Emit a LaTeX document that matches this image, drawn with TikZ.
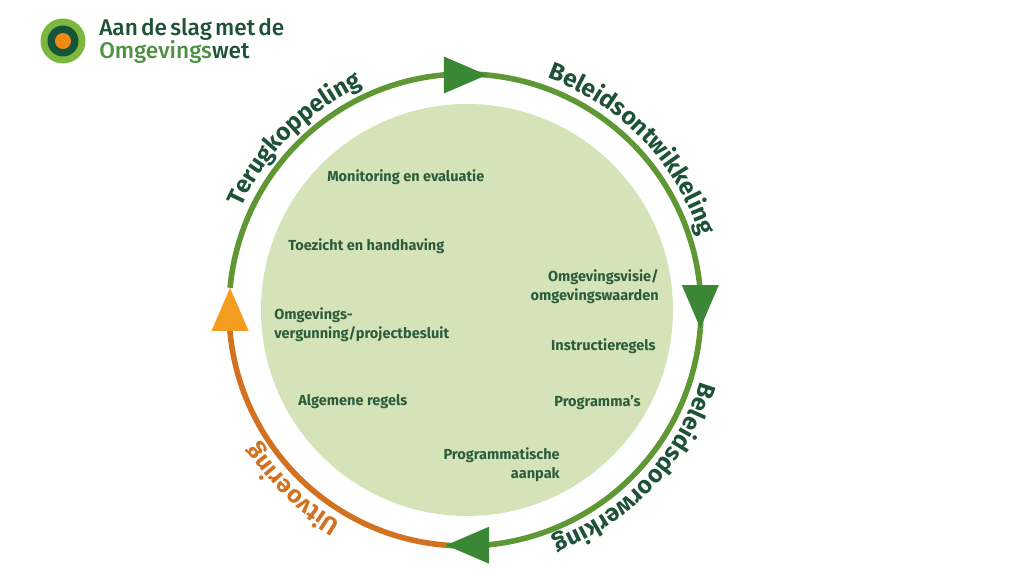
\documentclass[tikz,border=0pt]{standalone}
\usepackage{fontspec}
\setmainfont{Fira Sans}
\newfontfamily\titlefont[WordSpace=0.55]{Fira Sans Medium}
\usetikzlibrary{decorations.text, positioning}
\definecolor{ringgreen}{HTML}{5E9733}
\definecolor{ringorange}{HTML}{D2711F}
\definecolor{tipgreen}{HTML}{3A8735}
\definecolor{tiporange}{HTML}{F39C1F}
\definecolor{discgreen}{HTML}{D5E3B9}
\definecolor{labeldark}{HTML}{2C5C3C}
\definecolor{titledark}{HTML}{1D5138}
\definecolor{titlegreen}{HTML}{4F9143}
\definecolor{logolight}{HTML}{7DB73E}
\definecolor{logodark}{HTML}{14553A}
\definecolor{logoorange}{HTML}{F08A14}
\newcommand{\ringfont}{\fontsize{18.3}{18.3}\selectfont\bfseries}
\tikzset{
  % Tekst in de schijf
  inner label/.style={font=\fontsize{10.9}{14}\selectfont\bfseries,text=labeldark,inner sep=0},
  title line/.style={font=\titlefont\fontsize{17}{17}\selectfont,inner sep=0,anchor=west},
  % Ring
  ring arc/.style={line width=4.2pt,ringgreen},
  ring label/.style={decorate,decoration={text along path,text align=center,text={#1}}}
}
\begin{document}
\begin{tikzpicture}[x=0.75pt,y=0.75pt]
  \useasboundingbox (0,0) rectangle (1030,580);
  % Logo
  \fill[logolight] (63,539) circle (22.5);
  \fill[logodark] (63,539) circle (15.5);
  \fill[logoorange] (63,539) circle (8);
  \node[title line,text=titledark] (title top) at (99,551) {Aan de slag met de};
  \node[title line,text=titlegreen] (title low) at (99,528) {Omgevings\textcolor{titledark}{wet}};
  \fill[discgreen] (467,270) circle (206);
  \begin{scope}[shift={(465,270)}]
    % Ring, vier bogen van punt naar punt
    \draw[ring arc] (174.6:236) arc[start angle=174.6,end angle=90,radius=236];
    \draw[ring arc] (90:236) arc[start angle=90,end angle=-4.4,radius=236];
    \draw[ring arc] (-4.4:236) arc[start angle=-4.4,end angle=-94.6,radius=236];
    \draw[ring arc,ringorange] (-94.6:236) arc[start angle=-94.6,end angle=-180,radius=236];
    % Pijlpunten
    \foreach \pos/\rot/\col in {84.7:236/0/tipgreen,-4.4:236/-90/tipgreen,-94.6:236/180/tipgreen,174.6:236/90/tiporange}{
      \fill[\col,shift={(\pos)},rotate=\rot] (0,0) -- (-43,18.5) -- (-43,-18.5) -- cycle;
    }
    % Teksten langs de ring
    \path[ring label={|\ringfont\color{titledark}|Terugkoppeling}] (165:246) arc[start angle=165,end angle=105,radius=246];
    \path[ring label={|\ringfont\color{titledark}|Beleidsontwikkeling}] (79:246) arc[start angle=79,end angle=9,radius=246];
    \path[ring label={|\ringfont\color{titledark}|Beleidsdoorwerking}] (-8:246) arc[start angle=-8,end angle=-78,radius=246];
    \path[ring label={|\ringfont\color{ringorange}|Uitvoering}] (-109:246) arc[start angle=-109,end angle=-159,radius=246];
  \end{scope}
  % Links uitgelijnd
  \node[inner label,anchor=west] (monitoring) at (327,403) {Monitoring en evaluatie};
  \node[inner label,anchor=west] (toezicht) at (288,334) {Toezicht en handhaving};
  \node[inner label,anchor=west,align=left] (vergunning) at (274,255) {Omgevings-\\vergunning/projectbesluit};
  \node[inner label,anchor=west] (algemeen) at (298,178) {Algemene regels};
  % Rechts uitgelijnd
  \node[inner label,anchor=east,align=right] (visie) at (659,293) {Omgevingsvisie/\\omgevingswaarden};
  \node[inner label,anchor=east] (instructie) at (656,234) {Instructieregels};
  \node[inner label,anchor=east] (programmas) at (641,177) {Programma's};
  \node[inner label,anchor=east,align=right] (aanpak) at (560,115) {Programmatische\\aanpak};
\end{tikzpicture}
\end{document}
